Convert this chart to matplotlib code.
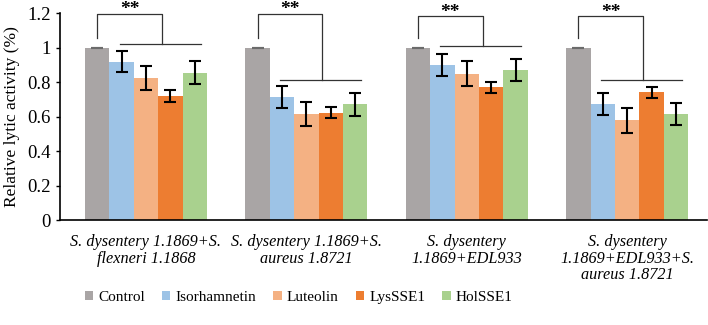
import matplotlib.pyplot as plt
import numpy as np

plt.rcParams['font.family'] = ['Liberation Serif', 'DejaVu Serif']

groups = ['S. dysentery 1.1869+S.\nflexneri 1.1868',
          'S. dysentery 1.1869+S.\naureus 1.8721',
          'S. dysentery\n1.1869+EDL933',
          'S. dysentery\n1.1869+EDL933+S.\naureus 1.8721']
treatments = ['Control', 'Isorhamnetin', 'Luteolin', 'LysSSE1', 'HolSSE1']
colors = ['#A9A5A5', '#9DC3E6', '#F4B183', '#ED7D31', '#A9D18E']

control = [1.0, 1.0, 1.0, 1.0]
isorhamnetin = [0.92, 0.713, 0.902, 0.676]
luteolin = [0.825, 0.616, 0.85, 0.578]
lyssse1 = [0.719, 0.622, 0.771, 0.742]
holsse1 = [0.856, 0.671, 0.871, 0.618]

control_err = [0.0, 0.0, 0.0, 0.0]
isorhamnetin_err = [0.061, 0.065, 0.064, 0.064]
luteolin_err = [0.07, 0.07, 0.072, 0.07]
lyssse1_err = [0.034, 0.032, 0.033, 0.033]
holsse1_err = [0.066, 0.066, 0.066, 0.064]

# significance brackets: top of bracket, lower line height
bracket_top = [1.198, 1.198, 1.184, 1.184]
bracket_low = [1.02, 0.812, 1.01, 0.812]

values = [control, isorhamnetin, luteolin, lyssse1, holsse1]
errors = [control_err, isorhamnetin_err, luteolin_err, lyssse1_err, holsse1_err]

fig = plt.figure(figsize=(7.08, 3.25), dpi=100)
ax = fig.add_axes([0.085, 0.323, 0.913, 0.636])

x = np.arange(len(groups))
w = 0.152
for k, (name, vals, errs, c) in enumerate(zip(treatments, values, errors, colors)):
    pos = x + (k - 2) * w
    ax.bar(pos, vals, w, color=c, label=name, zorder=2)
    ax.errorbar(pos, vals, yerr=errs, fmt='none',
                ecolor='#6b6b6b' if k == 0 else 'black',
                elinewidth=1.5, capsize=4.5, capthick=1.5, zorder=3)

# brackets
for i in range(len(groups)):
    left = x[i] - 2 * w
    drop = x[i] + 0.1
    ax.plot([left, left, drop, drop], [1.057, bracket_top[i], bracket_top[i], bracket_low[i]],
            color='#333333', lw=0.9, clip_on=False, zorder=4)
    ax.plot([x[i] - 0.165, x[i] + 0.34], [bracket_low[i], bracket_low[i]],
            color='#333333', lw=0.9, clip_on=False, zorder=4)
    ax.text((left + drop) / 2, bracket_top[i] - 0.004, '**', ha='center', va='baseline',
            fontsize=14, fontweight='bold', clip_on=False)

ax.set_xlim(-0.535, 3.495)
ax.set_ylim(0, 1.2)
ax.set_yticks([0, 0.2, 0.4, 0.6, 0.8, 1, 1.2])
ax.set_yticklabels(['0', '0.2', '0.4', '0.6', '0.8', '1', '1.2'], fontsize=13.5)
ax.set_xticks(x)
ax.set_xticklabels(groups, fontsize=11.7, style='italic', linespacing=1.05)
ax.tick_params(axis='x', length=0, pad=10)
ax.tick_params(axis='y', length=3, direction='out', width=1, pad=4)
ax.spines['top'].set_visible(False)
ax.spines['right'].set_visible(False)
ax.spines['left'].set_linewidth(1.2)
ax.spines['bottom'].set_linewidth(1.2)
ax.set_ylabel('Relative lytic activity (%)', fontsize=12.5, labelpad=5)

fig.legend(loc='center', bbox_to_anchor=(0.422, 0.086), ncol=5, frameon=False,
           prop={'family': 'Liberation Serif', 'size': 11},
           handlelength=0.55, handleheight=0.55, handletextpad=0.35,
           columnspacing=1.1)

fig.savefig('out.png', dpi=100)
